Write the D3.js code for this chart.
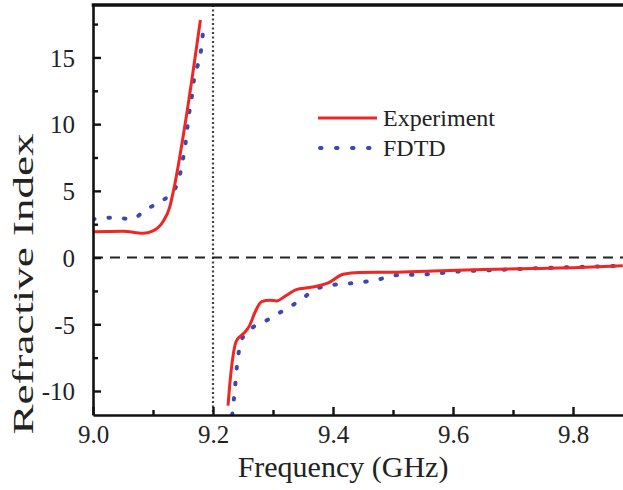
<!DOCTYPE html>
<html>
<head>
<meta charset="utf-8">
<script src="https://cdn.jsdelivr.net/npm/d3@7"></script>
<style>
  body { margin: 0; background: #fff; }
  svg, svg text { font-family: "Liberation Serif", "Times New Roman", Times, "DejaVu Serif", serif; }
  svg { display: block; }
</style>
</head>
<body>
<svg width="623" height="490"></svg>
<script>
// [frequency GHz, refractive index]
const expLow = [[9.0, 1.93], [9.05, 1.98], [9.083, 1.82], [9.1, 2.0], [9.116, 2.65], [9.128, 3.8],
    [9.135, 5.2], [9.157, 11.0], [9.179, 17.8]]
const expHigh = [[9.225, -11.1], [9.228, -9.5], [9.233, -7.5], [9.239, -6.25], [9.253, -5.6], [9.261, -5.1],
    [9.27, -4.1], [9.281, -3.3], [9.295, -3.2], [9.306, -3.25], [9.32, -2.9], [9.339, -2.4], [9.361, -2.25],
    [9.392, -1.9], [9.417, -1.25], [9.444, -1.12], [9.5, -1.1], [9.567, -1.0], [9.65, -0.9], [9.733, -0.82],
    [9.81, -0.75], [9.883, -0.62]]
const fdtdLow = [[9.0, 2.88], [9.037, 3.0], [9.064, 2.88], [9.089, 3.63], [9.115, 4.25], [9.137, 5.18],
    [9.145, 6.25], [9.15, 7.4], [9.154, 8.5], [9.157, 9.63], [9.16, 10.75], [9.164, 11.8], [9.167, 12.95],
    [9.172, 14.05], [9.179, 15.2], [9.182, 16.3], [9.185, 17.7]]
const fdtdHigh = [[9.232, -11.8], [9.2345, -10.75], [9.237, -9.6], [9.239, -8.5], [9.242, -7.4], [9.246, -6.3],
    [9.266, -5.25], [9.293, -4.62], [9.319, -3.92], [9.344, -3.25], [9.371, -2.37], [9.397, -2.07],
    [9.425, -1.95], [9.478, -1.62], [9.503, -1.32], [9.556, -1.25], [9.608, -1.05], [9.661, -0.95],
    [9.742, -0.8], [9.883, -0.62]]

const xTicks = [9.0, 9.2, 9.4, 9.6, 9.8]
const xMinor = [9.1, 9.3, 9.5, 9.7]
const yTicks = [-10, -5, 0, 5, 10, 15]
const yMinor = [-7.5, -2.5, 2.5, 7.5, 12.5, 17.5]
const resonance = 9.2
const legendNames = ["Experiment", "FDTD"]

const mLeft = 93, mTop = 5, mBottom = 415, W = 623
const red = "#ee2624", blue = "#3a48b0"
const serif = "Liberation Serif, Times New Roman, Times, serif"

const svg = d3.select("svg")

const x = d3.scaleLinear().domain([9.0, 9.9]).range([mLeft, mLeft + 540])
const y = d3.scaleLinear().domain([-11.8, 18.93]).range([mBottom, mTop])

svg.append("defs").append("clipPath").attr("id", "clip")
    .append("rect")
    .attr("x", mLeft).attr("y", mTop)
    .attr("width", W - mLeft).attr("height", mBottom - mTop)

const plot = svg.append("g").attr("clip-path", "url(#clip)")

// reference lines
plot.append("line")
    .attr("x1", x(resonance)).attr("x2", x(resonance))
    .attr("y1", mTop).attr("y2", mBottom)
    .attr("stroke", "#444")
    .attr("stroke-width", 2.2)
    .attr("stroke-dasharray", "2 2.5")

plot.append("line")
    .attr("x1", mLeft).attr("x2", W)
    .attr("y1", y(0)).attr("y2", y(0))
    .attr("stroke", "#222")
    .attr("stroke-width", 2)
    .attr("stroke-dasharray", "10 7")

const line = d3.line()
    .x(d => x(d[0]))
    .y(d => y(d[1]))
    .curve(d3.curveMonotoneX)

plot.selectAll("path.fdtd")
    .data([fdtdLow, fdtdHigh])
    .join("path")
    .attr("class", "fdtd")
    .attr("d", line)
    .attr("fill", "none")
    .attr("stroke", blue)
    .attr("stroke-width", 4)
    .attr("stroke-linecap", "round")
    .attr("stroke-dasharray", "1.5 14")

plot.selectAll("path.exp")
    .data([expLow, expHigh])
    .join("path")
    .attr("class", "exp")
    .attr("d", line)
    .attr("fill", "none")
    .attr("stroke", red)
    .attr("stroke-width", 3)

// axes, ticks pointing inward
const xAxis = svg.append("g")
    .attr("transform", `translate(0,${mBottom})`)
    .call(d3.axisBottom(x).tickValues(xTicks).tickSizeInner(-8).tickSizeOuter(0).tickFormat(d3.format(".1f")))

svg.append("g")
    .attr("transform", `translate(0,${mBottom})`)
    .call(d3.axisBottom(x).tickValues(xMinor).tickSizeInner(-5).tickSizeOuter(0).tickFormat(""))
    .call(g => g.select(".domain").remove())

const yAxis = svg.append("g")
    .attr("transform", `translate(${mLeft},0)`)
    .call(d3.axisLeft(y).tickValues(yTicks).tickSizeInner(-8).tickSizeOuter(0).tickFormat(d => String(d)))

svg.append("g")
    .attr("transform", `translate(${mLeft},0)`)
    .call(d3.axisLeft(y).tickValues(yMinor).tickSizeInner(-5).tickSizeOuter(0).tickFormat(""))
    .call(g => g.select(".domain").remove())

svg.selectAll("g").attr("font-family", serif)
svg.selectAll(".domain").attr("stroke", "#111").attr("stroke-width", 2.6)
svg.selectAll(".tick line").attr("stroke", "#111").attr("stroke-width", 2.4)

xAxis.selectAll(".tick text")
    .attr("font-size", 25)
    .attr("fill", "#222")
    .attr("y", 0)
    .attr("dy", 28)

yAxis.selectAll(".tick text")
    .attr("font-size", 25)
    .attr("fill", "#222")
    .attr("x", -18)
    .attr("dy", "0.35em")

// top frame
svg.append("line")
    .attr("x1", mLeft - 1.3).attr("x2", W)
    .attr("y1", mTop).attr("y2", mTop)
    .attr("stroke", "#111")
    .attr("stroke-width", 3.4)

// titles
svg.append("text")
    .attr("x", 343).attr("y", 477)
    .attr("text-anchor", "middle")
    .attr("font-family", serif)
    .attr("font-size", 30)
    .attr("fill", "#222")
    .text("Frequency (GHz)")

// the y title is visibly stretched along its length in the original
svg.append("text")
    .attr("transform", "translate(33,284) rotate(-90) scale(1.5,1)")
    .attr("text-anchor", "middle")
    .attr("font-family", serif)
    .attr("font-size", 30)
    .attr("fill", "#222")
    .text("Refractive Index")

// legend
const legend = svg.append("g").attr("font-family", serif)
legend.append("line")
    .attr("x1", 318).attr("x2", 377)
    .attr("y1", 118).attr("y2", 118)
    .attr("stroke", red)
    .attr("stroke-width", 3)
legend.append("line")
    .attr("x1", 320).attr("x2", 372)
    .attr("y1", 148).attr("y2", 148)
    .attr("stroke", blue)
    .attr("stroke-width", 4)
    .attr("stroke-linecap", "round")
    .attr("stroke-dasharray", "1.5 14.5")
legend.selectAll("text")
    .data(legendNames)
    .join("text")
    .attr("x", 383)
    .attr("y", (d, i) => 126 + i * 30)
    .attr("font-size", 24)
    .attr("fill", "#222")
    .text(d => d)
</script>
</body>
</html>
